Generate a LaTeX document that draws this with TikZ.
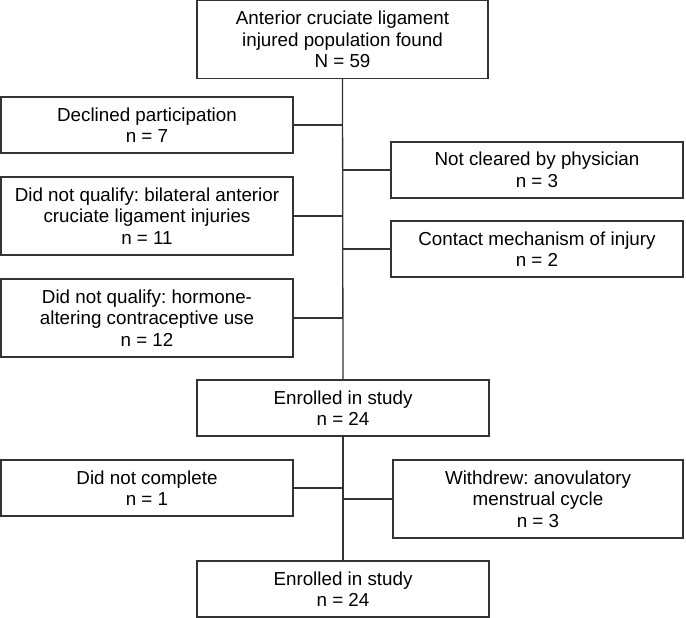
\documentclass[tikz,border=0pt]{standalone}
\usepackage{fontspec}
\setmainfont{Liberation Sans}
\frenchspacing
\usetikzlibrary{positioning}

\begin{document}
\begin{tikzpicture}[x=1pt, y=-1pt,
    box/.style={draw=black!80, line width=1.3pt, align=center, inner sep=0pt,
        font=\fontsize{18.8}{21.5}\selectfont},
    sbox/.style={box, minimum height=56pt},
    tbox/.style={box, minimum height=78pt},
    link/.style={draw=black!80, line width=1.3pt}]
    \useasboundingbox (0,0) rectangle (686,618);

    % main stages
    \node[tbox, minimum width=291pt] (found) at (342.5,39.5)
        {Anterior cruciate ligament\\injured population found\\N = 59};
    \node[sbox, minimum width=292pt] (enrolled) at (343,408) {Enrolled in study\\n = 24};
    \node[sbox, minimum width=292pt] (final) at (343,589) {Enrolled in study\\n = 24};

    % exclusions, left side
    \node[sbox, minimum width=292pt] (declined) at (147,125) {Declined participation\\n = 7};
    \node[tbox, minimum width=292pt] (bilateral) at (147,216)
        {Did not qualify: bilateral anterior\\cruciate ligament injuries\\n = 11};
    \node[tbox, minimum width=292pt] (hormone) at (147,318)
        {Did not qualify: hormone-\\altering contraceptive use\\n = 12};
    \node[sbox, minimum width=292pt] (notdone) at (147,488) {Did not complete\\n = 1};

    % exclusions, right side
    \node[sbox, minimum width=292pt] (physician) at (537,170) {Not cleared by physician\\n = 3};
    \node[sbox, minimum width=292pt] (contact) at (537,249) {Contact mechanism of injury\\n = 2};
    \node[tbox, minimum width=290pt] (withdrew) at (538,499)
        {Withdrew: anovulatory\\menstrual cycle\\n = 3};

    % trunk
    \draw[link] (found.south) -- (enrolled.north);
    \draw[link] (enrolled.south) -- (final.north);

    % branches
    \foreach \n in {declined, bilateral, hormone}
        \draw[link] (\n.east) -- (\n.east -| found.south);
    \foreach \n in {physician, contact}
        \draw[link] (\n.west) -- (\n.west -| found.south);
    \draw[link] (notdone.east) -- (notdone.east -| enrolled.south);
    \draw[link] (withdrew.west) -- (withdrew.west -| enrolled.south);
\end{tikzpicture}
\end{document}
